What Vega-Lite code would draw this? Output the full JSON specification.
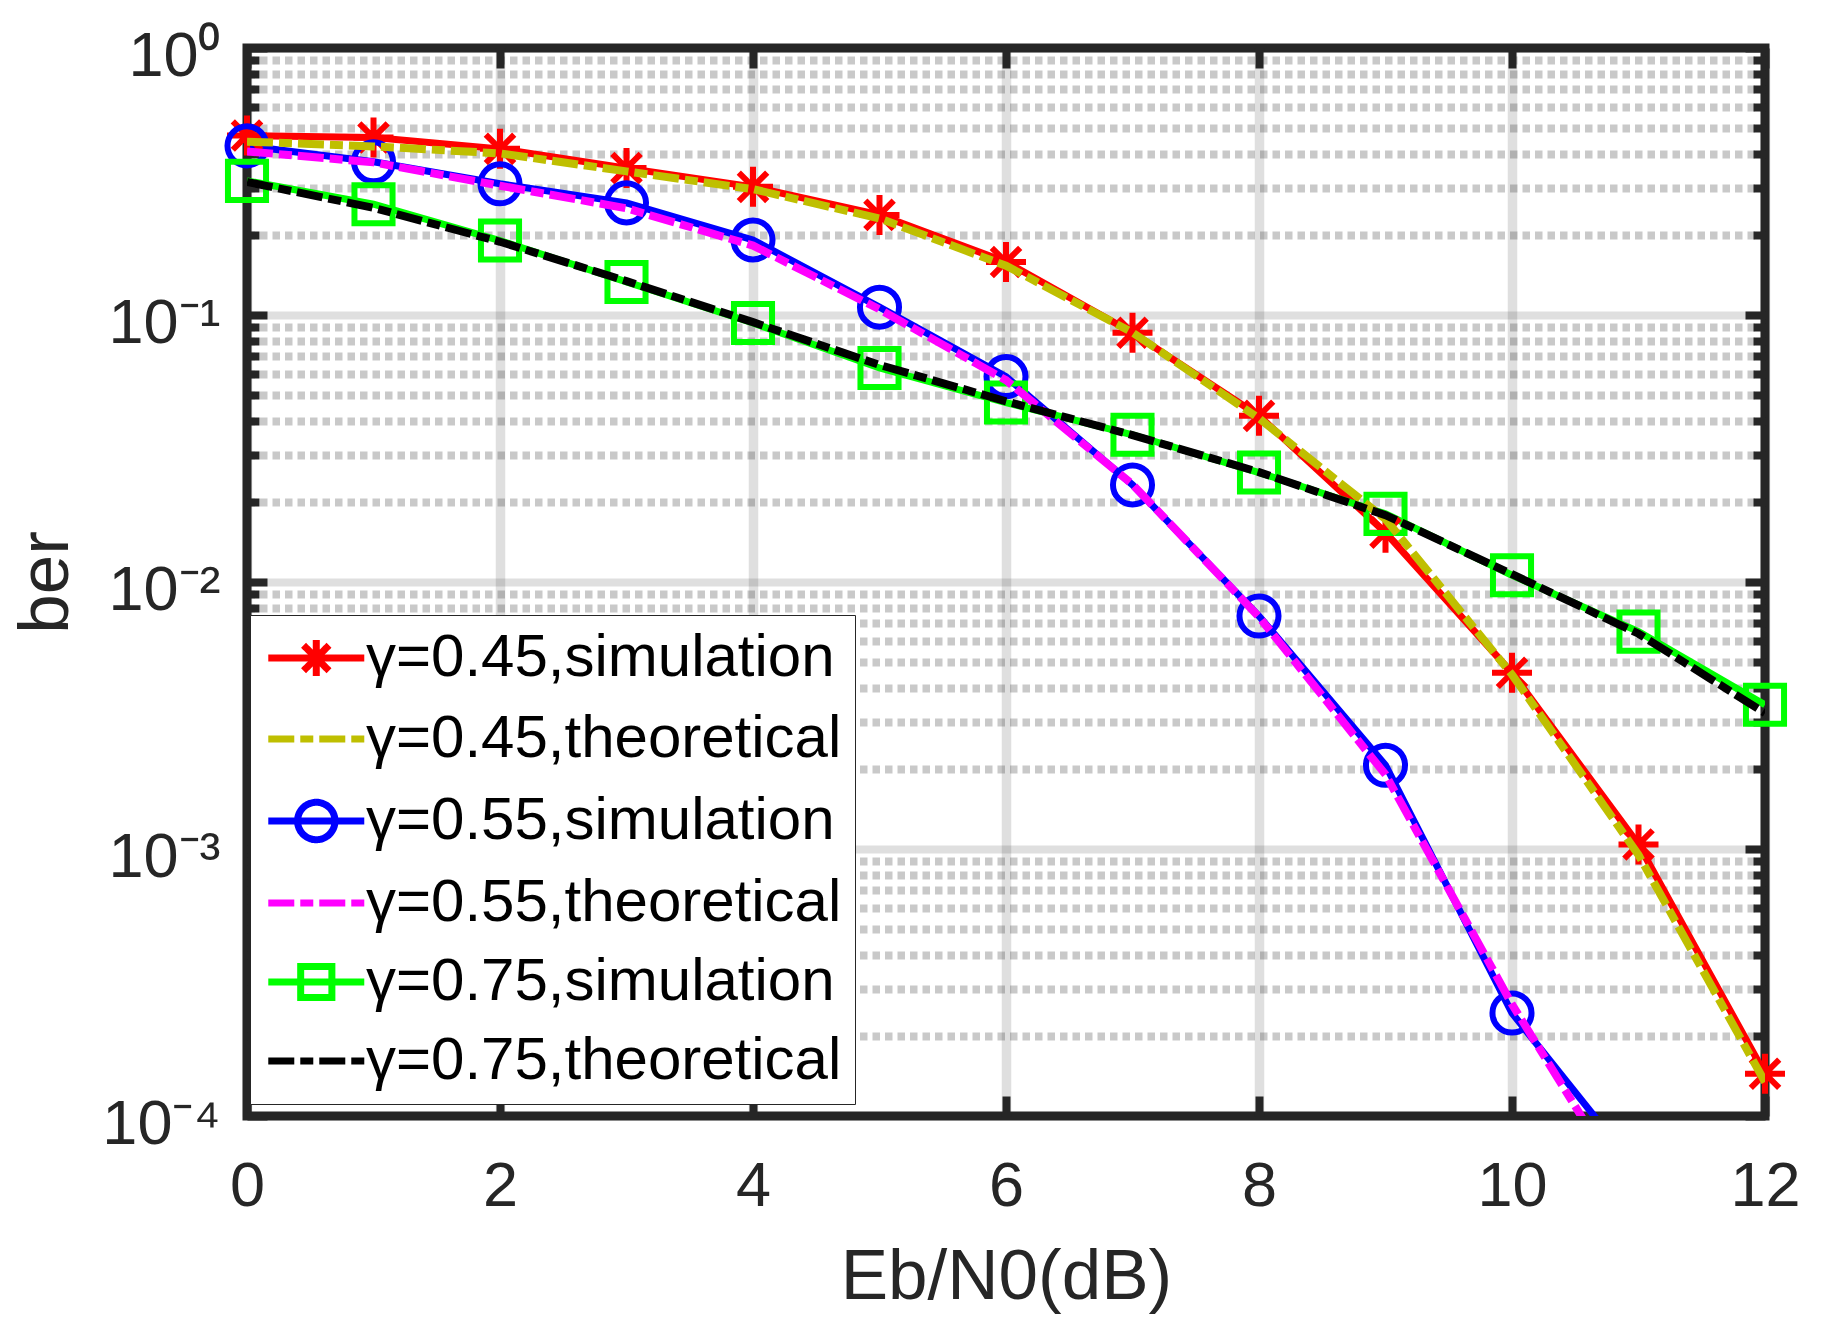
{
  "$schema": "https://vega.github.io/schema/vega-lite/v6.json",
  "width": 1518,
  "height": 1068,
  "autosize": {"type": "none"},
  "padding": {"left": 247, "top": 48, "right": 71, "bottom": 219},
  "background": "white",
  "config": {
    "view": {"stroke": "#262626", "strokeWidth": 9},
    "font": "Liberation Sans"
  },
  "data": {
    "values": [
      {"snr": 0, "ber": 0.47, "series": "γ=0.45,simulation"},
      {"snr": 1, "ber": 0.462, "series": "γ=0.45,simulation"},
      {"snr": 2, "ber": 0.419, "series": "γ=0.45,simulation"},
      {"snr": 3, "ber": 0.355, "series": "γ=0.45,simulation"},
      {"snr": 4, "ber": 0.302, "series": "γ=0.45,simulation"},
      {"snr": 5, "ber": 0.237, "series": "γ=0.45,simulation"},
      {"snr": 6, "ber": 0.158, "series": "γ=0.45,simulation"},
      {"snr": 7, "ber": 0.0858, "series": "γ=0.45,simulation"},
      {"snr": 8, "ber": 0.0419, "series": "γ=0.45,simulation"},
      {"snr": 9, "ber": 0.0153, "series": "γ=0.45,simulation"},
      {"snr": 10, "ber": 0.00457, "series": "γ=0.45,simulation"},
      {"snr": 11, "ber": 0.00104, "series": "γ=0.45,simulation"},
      {"snr": 12, "ber": 0.000144, "series": "γ=0.45,simulation"},
      {"snr": 0, "ber": 0.446, "series": "γ=0.45,theoretical"},
      {"snr": 1, "ber": 0.428, "series": "γ=0.45,theoretical"},
      {"snr": 2, "ber": 0.403, "series": "γ=0.45,theoretical"},
      {"snr": 3, "ber": 0.345, "series": "γ=0.45,theoretical"},
      {"snr": 4, "ber": 0.296, "series": "γ=0.45,theoretical"},
      {"snr": 5, "ber": 0.23, "series": "γ=0.45,theoretical"},
      {"snr": 6, "ber": 0.153, "series": "γ=0.45,theoretical"},
      {"snr": 7, "ber": 0.086, "series": "γ=0.45,theoretical"},
      {"snr": 8, "ber": 0.041, "series": "γ=0.45,theoretical"},
      {"snr": 9, "ber": 0.0172, "series": "γ=0.45,theoretical"},
      {"snr": 10, "ber": 0.0045, "series": "γ=0.45,theoretical"},
      {"snr": 11, "ber": 0.00095, "series": "γ=0.45,theoretical"},
      {"snr": 12, "ber": 0.000134, "series": "γ=0.45,theoretical"},
      {"snr": 0, "ber": 0.43, "series": "γ=0.55,simulation"},
      {"snr": 1, "ber": 0.375, "series": "γ=0.55,simulation"},
      {"snr": 2, "ber": 0.31, "series": "γ=0.55,simulation"},
      {"snr": 3, "ber": 0.263, "series": "γ=0.55,simulation"},
      {"snr": 4, "ber": 0.191, "series": "γ=0.55,simulation"},
      {"snr": 5, "ber": 0.107, "series": "γ=0.55,simulation"},
      {"snr": 6, "ber": 0.0588, "series": "γ=0.55,simulation"},
      {"snr": 7, "ber": 0.0231, "series": "γ=0.55,simulation"},
      {"snr": 8, "ber": 0.00746, "series": "γ=0.55,simulation"},
      {"snr": 9, "ber": 0.00206, "series": "γ=0.55,simulation"},
      {"snr": 10, "ber": 0.000243, "series": "γ=0.55,simulation"},
      {"snr": 11, "ber": 0.000062, "series": "γ=0.55,simulation"},
      {"snr": 0, "ber": 0.41, "series": "γ=0.55,theoretical"},
      {"snr": 1, "ber": 0.373, "series": "γ=0.55,theoretical"},
      {"snr": 2, "ber": 0.305, "series": "γ=0.55,theoretical"},
      {"snr": 3, "ber": 0.251, "series": "γ=0.55,theoretical"},
      {"snr": 4, "ber": 0.182, "series": "γ=0.55,theoretical"},
      {"snr": 5, "ber": 0.105, "series": "γ=0.55,theoretical"},
      {"snr": 6, "ber": 0.057, "series": "γ=0.55,theoretical"},
      {"snr": 7, "ber": 0.0232, "series": "γ=0.55,theoretical"},
      {"snr": 8, "ber": 0.0074, "series": "γ=0.55,theoretical"},
      {"snr": 9, "ber": 0.0019, "series": "γ=0.55,theoretical"},
      {"snr": 10, "ber": 0.000262, "series": "γ=0.55,theoretical"},
      {"snr": 11, "ber": 0.000045, "series": "γ=0.55,theoretical"},
      {"snr": 0, "ber": 0.318, "series": "γ=0.75,simulation"},
      {"snr": 1, "ber": 0.26, "series": "γ=0.75,simulation"},
      {"snr": 2, "ber": 0.19, "series": "γ=0.75,simulation"},
      {"snr": 3, "ber": 0.133, "series": "γ=0.75,simulation"},
      {"snr": 4, "ber": 0.0933, "series": "γ=0.75,simulation"},
      {"snr": 5, "ber": 0.0633, "series": "γ=0.75,simulation"},
      {"snr": 6, "ber": 0.047, "series": "γ=0.75,simulation"},
      {"snr": 7, "ber": 0.0356, "series": "γ=0.75,simulation"},
      {"snr": 8, "ber": 0.0257, "series": "γ=0.75,simulation"},
      {"snr": 9, "ber": 0.018, "series": "γ=0.75,simulation"},
      {"snr": 10, "ber": 0.0106, "series": "γ=0.75,simulation"},
      {"snr": 11, "ber": 0.00652, "series": "γ=0.75,simulation"},
      {"snr": 12, "ber": 0.00347, "series": "γ=0.75,simulation"},
      {"snr": 0, "ber": 0.315, "series": "γ=0.75,theoretical"},
      {"snr": 1, "ber": 0.252, "series": "γ=0.75,theoretical"},
      {"snr": 2, "ber": 0.188, "series": "γ=0.75,theoretical"},
      {"snr": 3, "ber": 0.134, "series": "γ=0.75,theoretical"},
      {"snr": 4, "ber": 0.094, "series": "γ=0.75,theoretical"},
      {"snr": 5, "ber": 0.065, "series": "γ=0.75,theoretical"},
      {"snr": 6, "ber": 0.0475, "series": "γ=0.75,theoretical"},
      {"snr": 7, "ber": 0.0355, "series": "γ=0.75,theoretical"},
      {"snr": 8, "ber": 0.0258, "series": "γ=0.75,theoretical"},
      {"snr": 9, "ber": 0.0178, "series": "γ=0.75,theoretical"},
      {"snr": 10, "ber": 0.0107, "series": "γ=0.75,theoretical"},
      {"snr": 11, "ber": 0.0064, "series": "γ=0.75,theoretical"},
      {"snr": 12, "ber": 0.00323, "series": "γ=0.75,theoretical"}
    ]
  },
  "resolve": {"axis": {"x": "independent", "y": "independent"}},
  "layer": [
    {
      "transform": [{"filter": "indexof(datum.series, 'simulation') >= 0"}],
      "mark": {"type": "line", "clip": true, "strokeWidth": 7, "strokeCap": "butt"},
      "encoding": {
        "x": {
          "field": "snr", "type": "quantitative",
          "scale": {"domain": [0, 12], "nice": false, "zero": false},
          "axis": {
            "orient": "bottom",
            "values": [0, 2, 4, 6, 8, 10, 12],
            "labelFont": "Liberation Sans", "labelFontSize": 63, "labelColor": "#262626",
            "labelFlush": false, "labelBaseline": "alphabetic", "labelPadding": 109,
            "domain": false, "tickColor": "#262626", "tickWidth": 8, "tickSize": -20,
            "grid": true, "gridColor": "#262626", "gridOpacity": 0.15, "gridWidth": 9.5,
            "title": "Eb/N0(dB)", "titleFont": "Liberation Sans", "titleFontSize": 71,
            "titleFontWeight": "normal", "titleColor": "#262626",
            "titleY": 182, "titleBaseline": "alphabetic"
          }
        },
        "y": {
          "field": "ber", "type": "quantitative",
          "scale": {"type": "log", "domain": [0.0001, 1], "nice": false},
          "axis": {
            "orient": "left",
            "values": [0.0001, 0.001, 0.01, 0.1, 1],
            "labelExpr": "datum.value == 1 ? '10⁰' : datum.value == 0.1 ? '10⁻¹' : datum.value == 0.01 ? '10⁻²' : datum.value == 0.001 ? '10⁻³' : '10⁻⁴'",
            "labelFont": "Liberation Sans", "labelFontSize": 63, "labelColor": "#262626",
            "labelPadding": 47, "labelOverlap": false, "labelBaseline": "middle", "labelOffset": 8,
            "domain": false, "tickColor": "#262626", "tickWidth": 8, "tickSize": -20,
            "grid": true, "gridColor": "#262626", "gridWidth": 8, "gridOpacity": 0.15,
            "title": "ber", "titleFont": "Liberation Sans", "titleFontSize": 71,
            "titleFontWeight": "normal", "titleColor": "#262626",
            "titleX": -180, "titleBaseline": "alphabetic"
          }
        },
        "color": {
          "field": "series", "type": "nominal",
          "scale": {
            "domain": ["γ=0.45,simulation", "γ=0.45,theoretical", "γ=0.55,simulation", "γ=0.55,theoretical", "γ=0.75,simulation", "γ=0.75,theoretical"],
            "range": ["#ff0000", "#bfbf00", "#0000ff", "#ff00ff", "#00ff00", "#000000"]
          },
          "legend": {
            "orient": "none", "legendX": 3, "legendY": 567,
            "title": null, "padding": 13,
            "fillColor": "white", "strokeColor": "#262626",
            "labelFont": "Liberation Sans", "labelFontSize": 60, "labelColor": "black",
            "labelLimit": 1000, "labelOffset": 43, "rowPadding": 19,
            "symbolSize": 2304, "symbolStrokeWidth": 7,
            "symbolType": "M-1.03,0H2.97",
            "encode": {
              "symbols": {
                "update": {
                  "shape": [
                    {"test": "datum.value === 'γ=0.45,simulation'", "value": "M-1.03,0H2.97M0.97,-0.75V0.75M0.44,-0.53L1.5,0.53M0.44,0.53L1.5,-0.53"},
                    {"test": "datum.value === 'γ=0.55,simulation'", "value": "M-1.03,0H2.97M0.19,0A0.78,0.78 0 1,0 1.75,0A0.78,0.78 0 1,0 0.19,0"},
                    {"test": "datum.value === 'γ=0.75,simulation'", "value": "M-1.03,0H2.97M0.32,-0.65H1.62V0.65H0.32Z"},
                    {"value": "M-1.03,0H2.97"}
                  ],
                  "strokeDash": [
                    {"test": "indexof(datum.value, 'theoretical') >= 0", "value": [26, 6, 13, 6]},
                    {"value": [1, 0]}
                  ]
                }
              }
            }
          }
        }
      }
    },
    {
      "transform": [{"filter": "indexof(datum.series, 'simulation') >= 0 && datum.ber >= 0.0001"}],
      "mark": {"type": "point", "filled": false, "strokeWidth": 6, "opacity": 1},
      "encoding": {
        "x": {
          "field": "snr", "type": "quantitative",
          "axis": {
            "orient": "top", "values": [0, 2, 4, 6, 8, 10, 12],
            "labels": false, "grid": false, "domain": false, "title": null,
            "tickColor": "#262626", "tickWidth": 8, "tickSize": -20
          }
        },
        "y": {
          "field": "ber", "type": "quantitative",
          "axis": {
            "orient": "left",
            "values": [0.0002, 0.0003, 0.0004, 0.0005, 0.0006, 0.0007, 0.0008, 0.0009,
                       0.002, 0.003, 0.004, 0.005, 0.006, 0.007, 0.008, 0.009,
                       0.02, 0.03, 0.04, 0.05, 0.06, 0.07, 0.08, 0.09,
                       0.2, 0.3, 0.4, 0.5, 0.6, 0.7, 0.8, 0.9],
            "labels": false, "domain": false, "title": null,
            "tickColor": "#262626", "tickWidth": 8, "tickSize": -12,
            "grid": true, "gridColor": "#262626", "gridWidth": 8, "gridOpacity": 0.25, "gridDash": [7.5, 5]
          }
        },
        "color": {"field": "series", "type": "nominal"},
        "shape": {
          "field": "series", "type": "nominal",
          "scale": {
            "domain": ["γ=0.45,simulation", "γ=0.55,simulation", "γ=0.75,simulation"],
            "range": ["M-1,0H1M0,-1V1M-0.71,-0.71L0.71,0.71M-0.71,0.71L0.71,-0.71", "circle", "square"]
          },
          "legend": null
        },
        "size": {
          "field": "series", "type": "ordinal",
          "scale": {
            "domain": ["γ=0.45,simulation", "γ=0.55,simulation", "γ=0.75,simulation"],
            "range": [1600, 1450, 1000]
          },
          "legend": null
        }
      }
    },
    {
      "transform": [{"filter": "datum.series == 'γ=0.45,theoretical' || datum.series == 'γ=0.55,theoretical'"}],
      "mark": {"type": "line", "clip": true, "strokeWidth": 8, "strokeCap": "butt", "strokeDash": [26, 6, 13, 6]},
      "encoding": {
        "x": {"field": "snr", "type": "quantitative", "axis": null},
        "y": {
          "field": "ber", "type": "quantitative",
          "axis": {
            "orient": "right", "values": [0.0001, 0.001, 0.01, 0.1, 1],
            "labels": false, "grid": false, "domain": false, "title": null,
            "tickColor": "#262626", "tickWidth": 8, "tickSize": -20
          }
        },
        "color": {"field": "series", "type": "nominal"}
      }
    },
    {
      "transform": [{"filter": "datum.series == 'γ=0.75,theoretical'"}],
      "mark": {"type": "line", "clip": true, "strokeWidth": 8, "strokeCap": "butt", "strokeDash": [26, 6, 13, 6]},
      "encoding": {
        "x": {"field": "snr", "type": "quantitative", "axis": null},
        "y": {
          "field": "ber", "type": "quantitative",
          "axis": {
            "orient": "right",
            "values": [0.0002, 0.0003, 0.0004, 0.0005, 0.0006, 0.0007, 0.0008, 0.0009,
                       0.002, 0.003, 0.004, 0.005, 0.006, 0.007, 0.008, 0.009,
                       0.02, 0.03, 0.04, 0.05, 0.06, 0.07, 0.08, 0.09,
                       0.2, 0.3, 0.4, 0.5, 0.6, 0.7, 0.8, 0.9],
            "labels": false, "grid": false, "domain": false, "title": null,
            "tickColor": "#262626", "tickWidth": 8, "tickSize": -12
          }
        },
        "color": {"field": "series", "type": "nominal"}
      }
    }
  ]
}
